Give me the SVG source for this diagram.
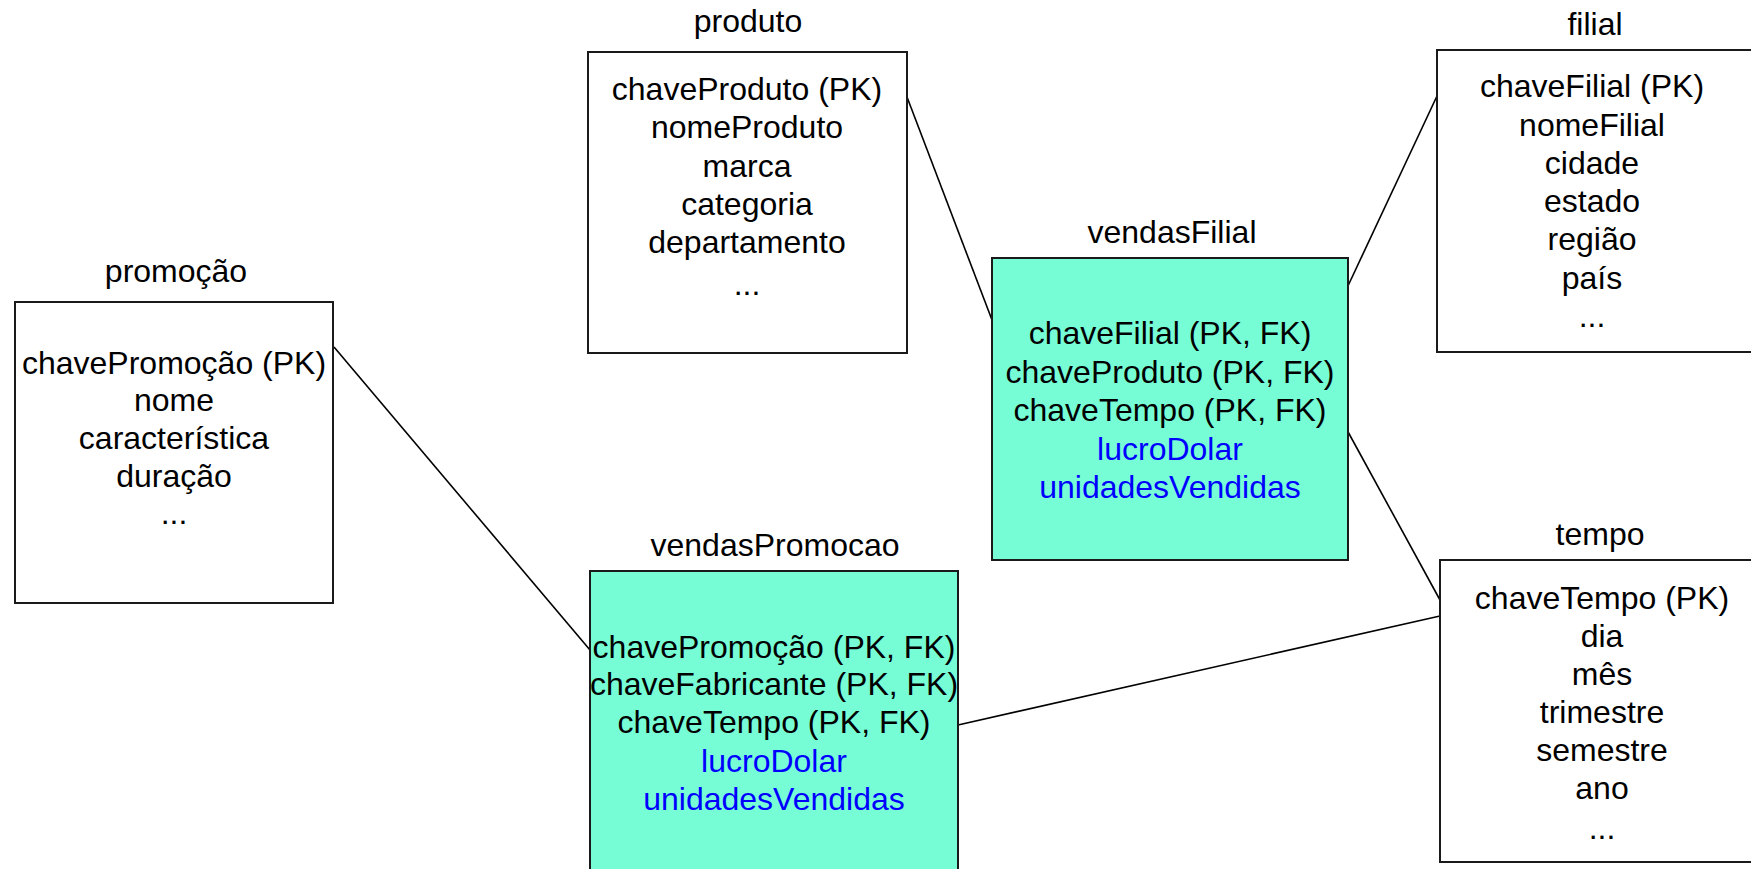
<svg xmlns="http://www.w3.org/2000/svg" width="1751" height="869" viewBox="0 0 1751 869">
<style>
  text { font-family: "Liberation Sans", Arial, sans-serif; font-size: 32px; fill: #000; text-anchor: middle; }
  .m { fill: #0000FF; }
  .box { fill: #FFFFFF; stroke: #1a1a1a; stroke-width: 2; }
  .fact { fill: #77FDD6; stroke: #1a1a1a; stroke-width: 2; }
  .conn line { stroke: #000; stroke-width: 1.6; }
</style>
<rect width="1751" height="869" fill="#FFFFFF"/>
<g class="conn" id="connectors">
  <line x1="334" y1="347" x2="590" y2="650"/>
  <line x1="907" y1="97" x2="992" y2="320"/>
  <line x1="1437" y1="96" x2="1347" y2="288"/>
  <line x1="1347" y1="430" x2="1440" y2="600"/>
  <line x1="958" y1="725" x2="1440" y2="616"/>
</g>
<g id="promocao">
  <text x="176" y="282">promoção</text>
  <rect class="box" x="15" y="302" width="318" height="301"/>
  <text x="174" y="374">chavePromoção (PK)</text>
  <text x="174" y="411">nome</text>
  <text x="174" y="449">característica</text>
  <text x="174" y="487">duração</text>
  <text x="174" y="524">...</text>
</g>
<g id="produto">
  <text x="748" y="32">produto</text>
  <rect class="box" x="588" y="52" width="319" height="301"/>
  <text x="747" y="100">chaveProduto (PK)</text>
  <text x="747" y="138">nomeProduto</text>
  <text x="747" y="176.5">marca</text>
  <text x="747" y="215">categoria</text>
  <text x="747" y="253">departamento</text>
  <text x="747" y="295">...</text>
</g>
<g id="vendasFilial">
  <text x="1172" y="243">vendasFilial</text>
  <rect class="fact" x="992" y="258" width="356" height="302"/>
  <text x="1170" y="344">chaveFilial (PK, FK)</text>
  <text x="1170" y="382.5">chaveProduto (PK, FK)</text>
  <text x="1170" y="421">chaveTempo (PK, FK)</text>
  <text class="m" x="1170" y="459.5">lucroDolar</text>
  <text class="m" x="1170" y="498">unidadesVendidas</text>
</g>
<g id="filial">
  <text x="1595" y="35">filial</text>
  <rect class="box" x="1437" y="50" width="330" height="302"/>
  <text x="1592" y="97">chaveFilial (PK)</text>
  <text x="1592" y="135.5">nomeFilial</text>
  <text x="1592" y="174">cidade</text>
  <text x="1592" y="212">estado</text>
  <text x="1592" y="250">região</text>
  <text x="1592" y="288.5">país</text>
  <text x="1592" y="327">...</text>
</g>
<g id="vendasPromocao">
  <text x="775" y="556">vendasPromocao</text>
  <rect class="fact" x="590" y="571" width="368" height="320"/>
  <text x="774" y="658">chavePromoção (PK, FK)</text>
  <text x="774" y="695">chaveFabricante (PK, FK)</text>
  <text x="774" y="733">chaveTempo (PK, FK)</text>
  <text class="m" x="774" y="772">lucroDolar</text>
  <text class="m" x="774" y="810">unidadesVendidas</text>
</g>
<g id="tempo">
  <text x="1600" y="545">tempo</text>
  <rect class="box" x="1440" y="560" width="330" height="302"/>
  <text x="1602" y="609">chaveTempo (PK)</text>
  <text x="1602" y="647">dia</text>
  <text x="1602" y="685">mês</text>
  <text x="1602" y="723">trimestre</text>
  <text x="1602" y="761">semestre</text>
  <text x="1602" y="799">ano</text>
  <text x="1602" y="839">...</text>
</g>
</svg>
